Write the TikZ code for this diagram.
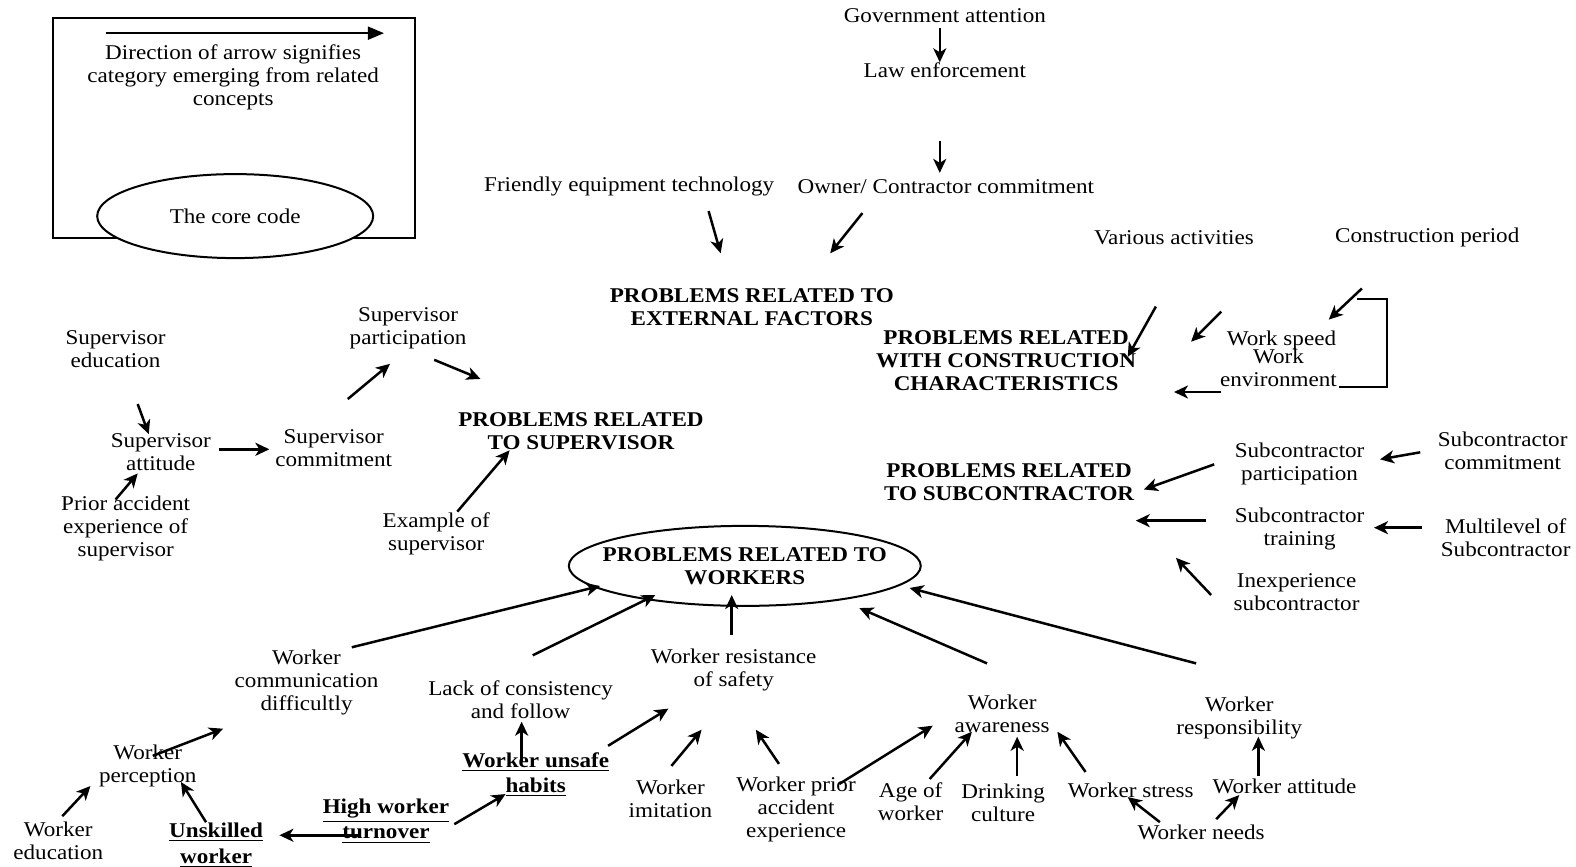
\documentclass[tikz,border=0pt]{standalone}
\usepackage{fontspec}
\setmainfont{Liberation Serif}[FakeStretch=1.1]
\usetikzlibrary{arrows.meta,calc,shapes.geometric}
\newcommand\myul[1]{\underline{#1}}
\begin{document}
\begin{tikzpicture}[x=0.50255pt,y=-0.50255pt,
 txt/.style={align=center,inner sep=0pt,font=\fontsize{10.5}{11.5}\selectfont},
 bld/.style={align=center,inner sep=0pt,font=\fontsize{10.5}{11.5}\selectfont\bfseries},
 bldu/.style={align=center,inner sep=0pt,font=\fontsize{10.5}{12.6}\selectfont\bfseries},
 arr/.style={line width=1.25pt,-{Stealth[length=7pt,width=6.5pt,inset=2pt]}},
 larr/.style={line width=0.9pt,-{Triangle[length=8pt,width=6.5pt]}}]
\useasboundingbox (0,0) rectangle (1568,862);
\fill[white] (0,0) rectangle (1568,862);

% legend
\node[draw,line width=1.1pt,minimum width=181pt,minimum height=110pt,inner sep=0pt] (legend) at (233,127) {};
\node[txt] (legtxt) at (232,77) {Direction of arrow signifies\\category emerging from related\\concepts};
\node[draw,fill=white,ellipse,line width=1pt,minimum width=138pt,minimum height=42pt,inner sep=0pt,font=\fontsize{10.5}{11.5}\selectfont] (core) at (234,215) {The core code};
\draw[larr] ($(legend)+(-128,-94)$) -- ($(legend)+(149,-94)$);

% top
\node[txt] (gov) at (940,16) {Government attention};
\node[txt] (law) at (940,70) {Law enforcement};
\node[txt] (friendly) at (626,186) {Friendly equipment technology};
\node[txt] (owner) at (941,186) {Owner/ Contractor commitment};
\node[bld] (ext) at (748,306) {PROBLEMS RELATED TO\\EXTERNAL FACTORS};
\node[txt] (various) at (1168,236) {Various activities};
\node[txt] (constr) at (1420,236) {Construction period};
\node[bld] (constchar) at (1001,359) {PROBLEMS RELATED\\WITH CONSTRUCTION\\CHARACTERISTICS};
\node[txt] (workspeed) at (1275,339) {Work speed};
\node[txt] (workenv) at (1272,366) {Work\\environment};

% supervisor
\node[txt] (supedu) at (115,347) {Supervisor\\education};
\node[txt] (supatt) at (160,450) {Supervisor\\attitude};
\node[txt] (prior) at (125,526) {Prior accident\\experience of\\supervisor};
\node[txt] (supcom) at (332,446) {Supervisor\\commitment};
\node[txt] (suppart) at (406,327) {Supervisor\\participation};
\node[bld] (supprob) at (578,429) {PROBLEMS RELATED\\TO SUPERVISOR};
\node[txt] (example) at (434,531) {Example of\\supervisor};

% subcontractor
\node[bld] (subprob) at (1004,480) {PROBLEMS RELATED\\TO SUBCONTRACTOR};
\node[txt] (subpart) at (1293,462) {Subcontractor\\participation};
\node[txt] (subcom) at (1495,449) {Subcontractor\\commitment};
\node[txt] (subtrain) at (1293,526) {Subcontractor\\training};
\node[txt] (multi) at (1498,535) {Multilevel of\\Subcontractor};
\node[txt] (inexp) at (1290,589) {Inexperience\\subcontractor};

% workers
\node[bld] (workers) at (741,563) {PROBLEMS RELATED TO\\WORKERS};
\draw[line width=1pt] (workers.center) ellipse [x radius=88pt, y radius=20pt];
\node[txt] (comm) at (305,679) {Worker\\communication\\difficultly};
\node[txt] (lack) at (518,696) {Lack of consistency\\and follow};
\node[txt] (resist) at (730,667) {Worker resistance\\of safety};
\node[txt] (aware) at (997,710) {Worker\\awareness};
\node[txt] (resp) at (1233,714) {Worker\\responsibility};
\node[txt] (percep) at (147,762) {Worker\\perception};
\node[txt] (wedu) at (58,837) {Worker\\education};
\node[bldu] (unskilled) at (215,841) {\myul{Unskilled}\\\myul{worker}};
\node[bldu] (turnover) at (384,817) {\myul{High worker}\\\myul{turnover}};
\node[bldu] (habits) at (533,771) {\myul{Worker unsafe}\\\myul{habits}};
\node[txt] (imit) at (667,795) {Worker\\imitation};
\node[txt] (prioracc) at (792,805) {Worker prior\\accident\\experience};
\node[txt] (age) at (906,798) {Age of\\worker};
\node[txt] (drink) at (998,799) {Drinking\\culture};
\node[txt] (stress) at (1125,786) {Worker stress};
\node[txt] (needs) at (1195,828) {Worker needs};
\node[txt] (wattitude) at (1278,782) {Worker attitude};

% bracket
\coordinate (br1) at ($(workspeed)+(75,-42)$);
\coordinate (br2) at ($(workspeed)+(105,46)$);
\coordinate (br3) at ($(workspeed)+(57,46)$);
\draw[line width=1pt] (br1) -| (br2) -- (br3);

% arrows
\draw[arr] ($(gov)+(-5,12)$) -- ($(law)+(-5,-8)$);
\draw[arr] ($(law)+(-5,70)$) -- ($(owner)+(-6,-14)$);
\draw[arr] ($(friendly)+(79,24)$) -- ($(ext)+(-31,-54)$);
\draw[arr] ($(owner)+(-83,26)$) -- ($(ext)+(78,-54)$);
\draw[arr] ($(various)+(-18,69)$) -- ($(constchar)+(121,-4)$);
\draw[arr] ($(various)+(47,74)$) -- ($(constchar)+(184,-19)$);
\draw[arr] ($(constr)+(-65,51)$) -- ($(workspeed)+(47,-21)$);
\draw[arr] ($(workenv)+(-57,24)$) -- ($(constchar)+(167,31)$);

\draw[arr] ($(supedu)+(22,55)$) -- ($(supatt)+(-12,-18)$);
\draw[arr] ($(prior)+(-10,-29)$) -- ($(supatt)+(-23,21)$);
\draw[arr] ($(supatt)+(58,-3)$) -- ($(supcom)+(-64,1)$);
\draw[arr] ($(supcom)+(14,-49)$) -- ($(suppart)+(-18,35)$);
\draw[arr] ($(suppart)+(26,31)$) -- ($(supprob)+(-100,-52)$);
\draw[arr] ($(example)+(21,-22)$) -- ($(supprob)+(-71,19)$);

\draw[arr] ($(subcom)+(-82,1)$) -- ($(subpart)+(80,-5)$);
\draw[arr] ($(subpart)+(-85,0)$) -- ($(subprob)+(134,7)$);
\draw[arr] ($(subtrain)+(-93,-8)$) -- ($(subprob)+(126,38)$);
\draw[arr] ($(multi)+(-83,-10)$) -- ($(subtrain)+(74,-1)$);
\draw[arr] ($(inexp)+(-85,3)$) -- ($(subprob)+(166,75)$);

\draw[arr] ($(comm)+(45,-35)$) -- ($(workers)+(-144,20)$);
\draw[arr] ($(lack)+(12,-44)$) -- ($(workers)+(-89,29)$);
\draw[arr] ($(resist)+(-2,-35)$) -- ($(workers)+(-13,29)$);
\draw[arr] ($(aware)+(-15,-50)$) -- ($(workers)+(114,42)$);
\draw[arr] ($(resp)+(-43,-54)$) -- ($(workers)+(164,22)$);

\draw[arr] ($(wedu)+(4,-25)$) -- ($(percep)+(-57,20)$);
\draw[arr] ($(unskilled)+(-10,-23)$) -- ($(percep)+(33,16)$);
\draw[arr] ($(percep)+(5,-10)$) -- ($(comm)+(-83,46)$);
\draw[arr] ($(turnover)+(-27,14)$) -- ($(unskilled)+(63,-10)$);
\draw[arr] ($(turnover)+(68,3)$) -- ($(habits)+(-30,19)$);
\draw[arr] ($(habits)+(-14,-13)$) -- ($(lack)+(1,22)$);
\draw[arr] ($(habits)+(72,-29)$) -- ($(resist)+(-65,38)$);
\draw[arr] ($(imit)+(1,-33)$) -- ($(resist)+(-32,59)$);
\draw[arr] ($(prioracc)+(-17,-45)$) -- ($(resist)+(22,59)$);
\draw[arr] ($(prioracc)+(43,-25)$) -- ($(aware)+(-69,12)$);
\draw[arr] ($(age)+(19,-23)$) -- ($(aware)+(-30,18)$);
\draw[arr] ($(drink)+(14,-27)$) -- ($(aware)+(15,23)$);
\draw[arr] ($(stress)+(-45,-18)$) -- ($(aware)+(55,18)$);
\draw[arr] ($(needs)+(-41,-10)$) -- ($(stress)+(-3,7)$);
\draw[arr] ($(needs)+(15,-13)$) -- ($(wattitude)+(-45,9)$);
\draw[arr] ($(wattitude)+(-26,-10)$) -- ($(resp)+(19,19)$);
\end{tikzpicture}
\end{document}
